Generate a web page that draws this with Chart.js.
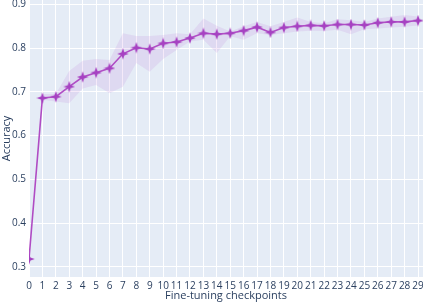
<!DOCTYPE html>
<html>
<head>
<meta charset="utf-8">
<script src="https://cdn.jsdelivr.net/npm/chart.js@4.4.1/dist/chart.umd.min.js"></script>
<style>
html,body{margin:0;padding:0;background:#fff;}
#wrap{width:423px;height:302px;position:relative;}
</style>
</head>
<body>
<div id="wrap"><canvas id="c"></canvas></div>
<script>
const checkpoints = [0,1,2,3,4,5,6,7,8,9,10,11,12,13,14,15,16,17,18,19,20,21,22,23,24,25,26,27,28,29];
const accuracy = [0.318,0.686,0.689,0.712,0.734,0.744,0.754,0.787,0.801,0.798,0.811,0.814,0.823,0.834,0.832,0.834,0.840,0.848,0.836,0.847,0.850,0.852,0.851,0.854,0.854,0.853,0.858,0.860,0.860,0.863];
const upperBand = [0.318,0.695,0.695,0.748,0.771,0.775,0.773,0.834,0.828,0.828,0.830,0.834,0.832,0.868,0.851,0.838,0.850,0.860,0.850,0.860,0.870,0.860,0.857,0.866,0.864,0.860,0.868,0.872,0.876,0.872];
const lowerBand = [0.318,0.682,0.678,0.674,0.708,0.716,0.697,0.712,0.766,0.746,0.775,0.796,0.815,0.819,0.789,0.827,0.819,0.834,0.830,0.834,0.838,0.840,0.839,0.842,0.832,0.843,0.845,0.847,0.849,0.852];
const yTickValues = [0.3,0.4,0.5,0.6,0.7,0.8,0.9];
const xTitle = "Fine-tuning checkpoints";
const yTitle = "Accuracy";

function starMarker(color){
  const s = 12, c = document.createElement('canvas');
  c.width = s; c.height = s;
  const g = c.getContext('2d');
  const cx = s/2, cy = s/2, R = 5.8, r = 2.1;
  g.beginPath();
  for (let i = 0; i < 8; i++) {
    const ang = -Math.PI/2 + i*Math.PI/4;
    const rad = (i % 2 === 0) ? R : r;
    const px = cx + rad*Math.cos(ang), py = cy + rad*Math.sin(ang);
    if (i === 0) g.moveTo(px, py); else g.lineTo(px, py);
  }
  g.closePath();
  g.fillStyle = color;
  g.fill();
  return c;
}

const lineColor = '#b04cc4';
const marker = starMarker('#a53fc0');
const pts = a => checkpoints.map((x,i) => ({x:x, y:a[i]}));

const bgPlugin = {
  id:'bg',
  beforeDraw(chart){
    const {ctx, chartArea:a} = chart;
    ctx.save();
    ctx.fillStyle = '#e5ecf6';
    ctx.fillRect(a.left, a.top, a.right-a.left, a.bottom-a.top);
    ctx.restore();
  }
};

new Chart(document.getElementById('c'), {
  type: 'line',
  data: {
    datasets: [
      { data: pts(lowerBand), borderWidth: 0, pointRadius: 0, fill: false, borderColor: 'rgba(0,0,0,0)', clip: 0 },
      { data: pts(upperBand), borderWidth: 0, pointRadius: 0, fill: '-1', borderColor: 'rgba(0,0,0,0)', backgroundColor: 'rgba(180,90,205,0.13)', clip: 0 },
      { data: pts(accuracy), borderColor: lineColor, borderWidth: 1.6, pointStyle: marker, pointRadius: 5, fill: false, clip: 0 }
    ]
  },
  options: {
    responsive: true,
    maintainAspectRatio: false,
    animation: false,
    layout: { padding: 0, autoPadding: false },
    plugins: { legend: { display: false }, tooltip: { enabled: false } },
    scales: {
      x: {
        type: 'linear', min: 0, max: 29.37,
        afterBuildTicks: s => { s.ticks = checkpoints.map(v => ({value: v})); },
        afterFit: s => { s.height = 25; s.paddingLeft = 0; s.paddingRight = 0; },
        grid: { color: '#ffffff', lineWidth: 1, drawTicks: false },
        border: { display: false },
        ticks: { autoSkip: false, maxRotation: 0, padding: 3, color: '#2a3f5f', font: { family: 'Open Sans', size: 10 } },
        title: { display: true, text: xTitle, color: '#2a3f5f', font: { family: 'Open Sans', size: 11 }, padding: { top: 0, bottom: 0 } }
      },
      y: {
        type: 'linear', min: 0.277, max: 0.910,
        afterBuildTicks: s => { s.ticks = yTickValues.map(v => ({value: v})); },
        afterFit: s => { s.width = 29; s.paddingTop = 0; s.paddingBottom = 0; },
        grid: { color: '#ffffff', lineWidth: 1, drawTicks: false },
        border: { display: false },
        ticks: { padding: 3, color: '#2a3f5f', font: { family: 'Open Sans', size: 10 }, callback: v => v.toFixed(1) },
        title: { display: true, text: yTitle, color: '#2a3f5f', font: { family: 'Open Sans', size: 11 }, padding: { top: 0, bottom: 0 } }
      }
    }
  },
  plugins: [bgPlugin]
});
</script>
</body>
</html>
